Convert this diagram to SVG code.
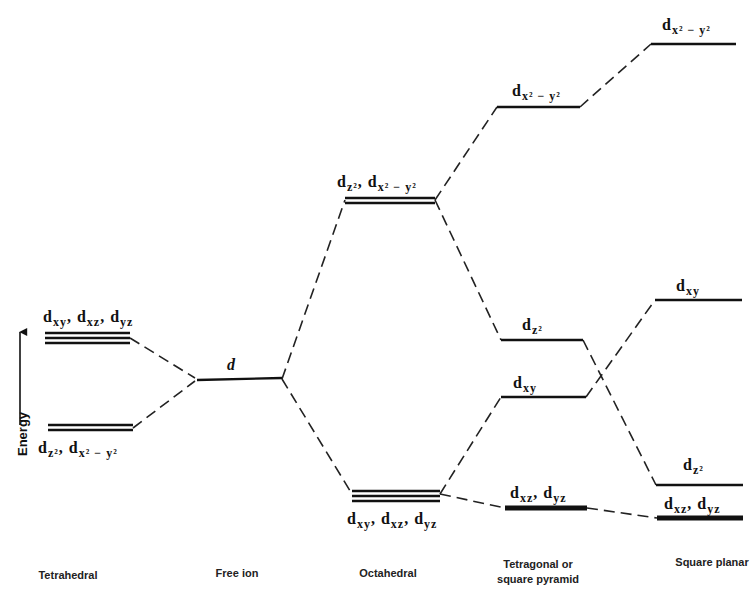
<svg xmlns="http://www.w3.org/2000/svg" width="756" height="592" viewBox="0 0 756 592">
<defs>
<style>
.lv{stroke:#111;stroke-width:2.4;fill:none}
.th{stroke:#111;stroke-width:5;fill:none}
.dl{stroke:#222;stroke-width:1.6;stroke-dasharray:11 6;fill:none}
.lb{font-family:"Liberation Serif",serif;font-weight:bold;font-size:16px;fill:#111;letter-spacing:1px}
.s{font-size:12px}
.cap{font-family:"Liberation Sans",Arial,sans-serif;font-size:11px;font-weight:bold;fill:#222;text-anchor:middle}
</style>
<marker id="ah" viewBox="0 0 10 10" refX="5" refY="1" markerWidth="8" markerHeight="10" orient="auto-start-reverse" markerUnits="userSpaceOnUse">
<path d="M0,10 L5,0 L10,10 Z" fill="#111"/>
</marker>
</defs>
<rect width="756" height="592" fill="#fff"/>

<g id="connectors">
<line class="dl" x1="130" y1="338" x2="195" y2="378"/>
<line class="dl" x1="133" y1="428" x2="195" y2="381"/>
<line class="dl" x1="282" y1="379" x2="345" y2="200"/>
<line class="dl" x1="282" y1="379" x2="352" y2="494"/>
<line class="dl" x1="435" y1="200" x2="497" y2="107"/>
<line class="dl" x1="435" y1="200" x2="501" y2="340"/>
<line class="dl" x1="440" y1="494" x2="501" y2="397"/>
<line class="dl" x1="440" y1="494" x2="505" y2="508"/>
<line class="dl" x1="580" y1="107" x2="651" y2="44"/>
<line class="dl" x1="583" y1="340" x2="656" y2="485"/>
<line class="dl" x1="586" y1="397" x2="655" y2="300"/>
<line class="dl" x1="587" y1="508" x2="657" y2="518"/>
</g>

<g id="energy-axis">
<line x1="20" y1="425" x2="20" y2="332" stroke="#111" stroke-width="1.6" marker-end="url(#ah)"/>
<text transform="translate(27,456) rotate(-90)" font-family="Liberation Sans,Arial,sans-serif" font-size="13px" font-weight="bold" fill="#111">Energy</text>
</g>

<g id="tetra-upper">
<line class="lv" x1="45" y1="333" x2="130" y2="333" stroke-width="2"/>
<line class="lv" x1="45" y1="338" x2="130" y2="338" stroke-width="2"/>
<line class="lv" x1="45" y1="343" x2="130" y2="343" stroke-width="2"/>
<text class="lb" x="43" y="322">d<tspan class="s" dy="4">xy</tspan><tspan dy="-4">, d</tspan><tspan class="s" dy="4">xz</tspan><tspan dy="-4">, d</tspan><tspan class="s" dy="4">yz</tspan></text>
</g>
<g id="tetra-lower">
<line class="lv" x1="48" y1="425" x2="133" y2="425" stroke-width="2"/>
<line class="lv" x1="48" y1="430" x2="133" y2="430" stroke-width="2"/>
<text class="lb" x="38" y="453">d<tspan class="s" dy="4">z²</tspan><tspan dy="-4">, d</tspan><tspan class="s" dy="4">x² − y²</tspan></text>
</g>

<g id="free-ion">
<line class="lv" x1="197" y1="380" x2="282" y2="378" stroke-width="3"/>
<text class="lb" x="227" y="370" font-style="italic">d</text>
</g>

<g id="oct-upper">
<line class="lv" x1="345" y1="198" x2="435" y2="198" stroke-width="2"/>
<line class="lv" x1="345" y1="203" x2="435" y2="203" stroke-width="2"/>
<text class="lb" x="337" y="187">d<tspan class="s" dy="4">z²</tspan><tspan dy="-4">, d</tspan><tspan class="s" dy="4">x² − y²</tspan></text>
</g>
<g id="oct-lower">
<line class="lv" x1="352" y1="491" x2="440" y2="491" stroke-width="2"/>
<line class="lv" x1="352" y1="496" x2="440" y2="496" stroke-width="2"/>
<line class="lv" x1="352" y1="501" x2="440" y2="501" stroke-width="2"/>
<text class="lb" x="347" y="524">d<tspan class="s" dy="4">xy</tspan><tspan dy="-4">, d</tspan><tspan class="s" dy="4">xz</tspan><tspan dy="-4">, d</tspan><tspan class="s" dy="4">yz</tspan></text>
</g>

<g id="tp-x2y2">
<line class="lv" x1="497" y1="107" x2="580" y2="107"/>
<text class="lb" x="512" y="96">d<tspan class="s" dy="4">x² − y²</tspan></text>
</g>
<g id="tp-z2">
<line class="lv" x1="501" y1="340" x2="583" y2="340"/>
<text class="lb" x="522" y="330">d<tspan class="s" dy="4">z²</tspan></text>
</g>
<g id="tp-xy">
<line class="lv" x1="501" y1="397" x2="586" y2="397"/>
<text class="lb" x="513" y="388">d<tspan class="s" dy="4">xy</tspan></text>
</g>
<g id="tp-xz-yz">
<line class="th" x1="505" y1="508" x2="587" y2="508"/>
<text class="lb" x="510" y="498">d<tspan class="s" dy="4">xz</tspan><tspan dy="-4">, d</tspan><tspan class="s" dy="4">yz</tspan></text>
</g>

<g id="sp-x2y2">
<line class="lv" x1="651" y1="44" x2="736" y2="44"/>
<text class="lb" x="662" y="30">d<tspan class="s" dy="4">x² − y²</tspan></text>
</g>
<g id="sp-xy">
<line class="lv" x1="655" y1="300" x2="742" y2="300"/>
<text class="lb" x="676" y="291">d<tspan class="s" dy="4">xy</tspan></text>
</g>
<g id="sp-z2">
<line class="lv" x1="656" y1="485" x2="743" y2="485"/>
<text class="lb" x="683" y="470">d<tspan class="s" dy="4">z²</tspan></text>
</g>
<g id="sp-xz-yz">
<line class="th" x1="657" y1="518" x2="743" y2="518"/>
<text class="lb" x="664" y="509">d<tspan class="s" dy="4">xz</tspan><tspan dy="-4">, d</tspan><tspan class="s" dy="4">yz</tspan></text>
</g>

<g id="captions">
<text class="cap" x="68" y="579">Tetrahedral</text>
<text class="cap" x="237" y="577">Free ion</text>
<text class="cap" x="388" y="577">Octahedral</text>
<text class="cap" x="538" y="568">Tetragonal or</text>
<text class="cap" x="538" y="583">square pyramid</text>
<text class="cap" x="712" y="566">Square planar</text>
</g>
</svg>
